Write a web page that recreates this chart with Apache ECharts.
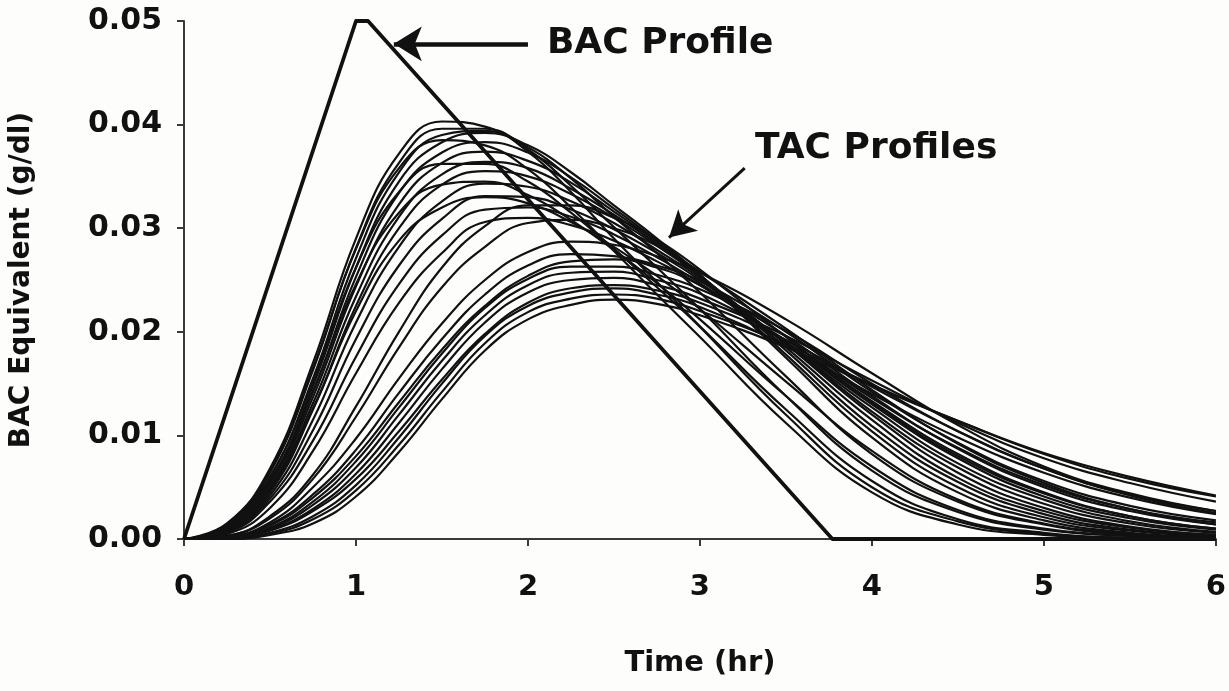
<!DOCTYPE html>
<html>
<head>
<meta charset="utf-8">
<title>BAC and TAC profiles</title>
<script src="https://cdn.jsdelivr.net/npm/echarts@6/dist/echarts.min.js"></script>
<style>
    html, body { margin: 0; padding: 0; background: #fdfdfc; }
    #chart { width: 1229px; height: 691px; }
</style>
</head>
<body>
<div id="chart"></div>
<script>
// sample times (hr) shared by every TAC curve
var times = [0, 0.25, 0.5, 0.75, 1, 1.25, 1.5, 1.75, 2, 2.25, 2.5, 2.75, 3, 3.5, 4, 4.5, 5, 5.5, 6];

// BAC profile (g/dl)
var bacTimes  = [0, 1, 1.07, 3.77, 6];
var bacValues = [0, 0.05, 0.05, 0, 0];

// TAC profiles, fast group (early, high peaks)
var tac1  = [0, .0015, .0068, .0170, .0290, .0372, .0403, .0398, .0374, .0335, .0290, .0248, .0205, .0120, .0050, .0017, .0005, .0001, 0];
var tac2  = [0, .0013, .0064, .0163, .0281, .0363, .0396, .0396, .0376, .0341, .0301, .0262, .0222, .0138, .0066, .0026, .0009, .0003, .0001];
var tac3  = [0, .0012, .0059, .0155, .0271, .0354, .0390, .0394, .0378, .0348, .0311, .0276, .0238, .0157, .0082, .0036, .0014, .0004, .0001];
var tac4  = [0, .0010, .0055, .0148, .0262, .0345, .0383, .0392, .0380, .0354, .0322, .0290, .0255, .0175, .0098, .0045, .0018, .0006, .0002];
var tac5  = [0, .0010, .0053, .0142, .0253, .0334, .0373, .0383, .0373, .0349, .0319, .0288, .0255, .0178, .0104, .0050, .0021, .0008, .0003];
var tac6  = [0, .0009, .0050, .0137, .0244, .0323, .0363, .0374, .0365, .0344, .0316, .0287, .0255, .0182, .0109, .0055, .0024, .0009, .0003];
var tac7  = [0, .0009, .0048, .0131, .0234, .0311, .0352, .0364, .0358, .0338, .0313, .0285, .0254, .0185, .0115, .0059, .0027, .0011, .0004];
var tac8  = [0, .0008, .0045, .0125, .0225, .0300, .0342, .0355, .0350, .0333, .0310, .0283, .0254, .0188, .0120, .0064, .0030, .0012, .0004];
var tac9  = [0, .0007, .0042, .0115, .0209, .0282, .0326, .0343, .0340, .0326, .0305, .0279, .0252, .0189, .0123, .0069, .0034, .0015, .0006];
var tac10 = [0, .0007, .0039, .0105, .0193, .0264, .0309, .0331, .0330, .0318, .0299, .0276, .0250, .0189, .0127, .0073, .0038, .0017, .0007];
var tac11 = [0, .0006, .0036, .0095, .0176, .0246, .0293, .0318, .0320, .0311, .0294, .0272, .0247, .0190, .0130, .0078, .0041, .0020, .0009];
var tac12 = [0, .0005, .0030, .0085, .0160, .0228, .0276, .0306, .0310, .0303, .0288, .0268, .0245, .0190, .0133, .0082, .0045, .0022, .0010];
var tac13 = [0, .0014, .0066, .0165, .0280, .0358, .0385, .0380, .0357, .0320, .0278, .0236, .0195, .0112, .0045, .0014, .0004, .0001, 0];
var tac14 = [0, .0012, .0060, .0152, .0262, .0335, .0362, .0362, .0345, .0315, .0280, .0243, .0205, .0125, .0056, .0019, .0006, .0001, 0];
var tac15 = [0, .0011, .0056, .0143, .0246, .0315, .0342, .0345, .0332, .0308, .0279, .0247, .0212, .0138, .0070, .0028, .0010, .0003, .0001];
var tac16 = [0, .0009, .0048, .0126, .0220, .0288, .0320, .0330, .0324, .0306, .0282, .0254, .0222, .0152, .0085, .0038, .0015, .0005, .0001];
var tac17 = [0, .0003, .0022, .0062, .0128, .0200, .0262, .0302, .0322, .0322, .0310, .0289, .0260, .0195, .0132, .0080, .0044, .0022, .0010];
var tac18 = [0, .0003, .0020, .0058, .0118, .0185, .0243, .0282, .0305, .0308, .0300, .0283, .0258, .0203, .0144, .0092, .0054, .0029, .0014];

// TAC profiles, slow group (late, low peaks, long tails)
var tac19 = [0, .0002, .0016, .0050, .0097, .0155, .0208, .0250, .0277, .0287, .0284, .0273, .0257, .0212, .0160, .0110, .0070, .0044, .0027];
var tac20 = [0, .0002, .0014, .0043, .0086, .0141, .0193, .0236, .0264, .0275, .0273, .0264, .0249, .0200, .0142, .0093, .0056, .0032, .0018];
var tac21 = [0, .0001, .0011, .0036, .0075, .0127, .0179, .0223, .0251, .0263, .0263, .0255, .0241, .0201, .0150, .0104, .0068, .0043, .0027];
var tac22 = [0, .0001, .0010, .0033, .0069, .0120, .0172, .0216, .0245, .0257, .0258, .0250, .0237, .0192, .0136, .0088, .0052, .0029, .0016];
var tac23 = [0, .0001, .0009, .0029, .0063, .0112, .0164, .0209, .0238, .0250, .0252, .0245, .0232, .0196, .0153, .0112, .0078, .0054, .0036];
var tac24 = [0, 0, .0006, .0022, .0052, .0098, .0150, .0196, .0225, .0238, .0242, .0236, .0224, .0186, .0140, .0098, .0064, .0040, .0024];
var tac25 = [0, 0, .0005, .0019, .0047, .0091, .0142, .0189, .0219, .0232, .0236, .0232, .0220, .0188, .0149, .0114, .0082, .0058, .0041];
var tac26 = [0, 0, .0004, .0015, .0041, .0084, .0135, .0182, .0212, .0226, .0231, .0227, .0216, .0185, .0148, .0114, .0083, .0060, .0042];
var tac27 = [0, .0002, .0013, .0040, .0080, .0132, .0183, .0225, .0254, .0268, .0270, .0262, .0245, .0196, .0138, .0087, .0050, .0027, .0014];
var tac28 = [0, .0001, .0008, .0027, .0058, .0104, .0154, .0198, .0228, .0242, .0245, .0240, .0228, .0192, .0147, .0104, .0068, .0042, .0025];

var tacProfiles = [tac1, tac2, tac3, tac4, tac5, tac6, tac7, tac8, tac9, tac10,
                   tac11, tac12, tac13, tac14, tac15, tac16, tac17, tac18, tac19, tac20,
                   tac21, tac22, tac23, tac24, tac25, tac26, tac27, tac28];

// annotation anchors, in data units
var bacArrow = [[2.0, 0.0478], [1.22, 0.0478]];
var tacArrow = [[3.26, 0.0358], [2.82, 0.0291]];
var bacLabel = [2.11, 0.0478];
var tacLabel = [3.32, 0.0377];

var FONT = 'DejaVu Sans';
var INK = '#111111';

var chart = echarts.init(document.getElementById('chart'));

function pairs(xs, ys) {
    var out = [];
    for (var i = 0; i < xs.length; i++) out.push([xs[i], ys[i]]);
    return out;
}

var series = [];
tacProfiles.forEach(function (p, i) {
    series.push({
        name: 'TAC ' + (i + 1),
        type: 'line',
        data: pairs(times, p),
        smooth: 0.45,
        symbol: 'none',
        silent: true,
        lineStyle: { color: INK, width: 2.2 },
        z: 2
    });
});

series.push({
    name: 'BAC',
    type: 'line',
    data: pairs(bacTimes, bacValues),
    symbol: 'none',
    silent: true,
    lineStyle: { color: INK, width: 3.8, join: 'round' },
    z: 3,
    markLine: {
        silent: true,
        animation: false,
        label: { show: false },
        emphasis: { disabled: true },
        data: [
            [{ coord: bacArrow[0], symbol: 'none', lineStyle: { width: 4.5, color: INK } },
             { coord: bacArrow[1], symbol: 'arrow', symbolSize: [26, 28] }],
            [{ coord: tacArrow[0], symbol: 'none', lineStyle: { width: 3, color: INK } },
             { coord: tacArrow[1], symbol: 'arrow', symbolSize: [22, 26] }]
        ],
        lineStyle: { type: 'solid', color: INK }
    }
});

chart.setOption({
    animation: false,
    backgroundColor: '#fdfdfc',
    grid: { left: 178, right: 9, top: 21, bottom: 152 },
    xAxis: {
        type: 'value',
        min: 0,
        max: 6,
        interval: 1,
        name: 'Time (hr)',
        nameLocation: 'middle',
        nameGap: 110,
        nameTextStyle: { fontFamily: FONT, fontWeight: 'bold', fontSize: 29, color: INK },
        axisLine: { show: true, lineStyle: { color: '#3a3a3a', width: 2 } },
        axisTick: { show: true, length: 7, lineStyle: { color: '#3a3a3a', width: 2 } },
        axisLabel: { margin: 34, fontFamily: FONT, fontWeight: 'bold', fontSize: 29, color: INK },
        splitLine: { show: false }
    },
    yAxis: {
        type: 'value',
        min: 0,
        max: 0.05,
        interval: 0.01,
        name: 'BAC Equivalent (g/dl)',
        nameLocation: 'middle',
        nameGap: 148,
        nameRotate: 90,
        nameTextStyle: { fontFamily: FONT, fontWeight: 'bold', fontSize: 28, color: INK },
        axisLine: { show: true, lineStyle: { color: '#3a3a3a', width: 2 } },
        axisTick: { show: true, length: 7, lineStyle: { color: '#3a3a3a', width: 2 } },
        axisLabel: {
            margin: 22,
            fontFamily: FONT, fontWeight: 'bold', fontSize: 30, color: INK,
            formatter: function (v) { return v.toFixed(2); }
        },
        splitLine: { show: false }
    },
    series: series
});

var pb = chart.convertToPixel({ gridIndex: 0 }, bacLabel);
var pt = chart.convertToPixel({ gridIndex: 0 }, tacLabel);
chart.setOption({
    graphic: [
        {
            type: 'text', x: pb[0], y: pb[1], silent: true,
            style: { text: 'BAC Profile', font: 'bold 36px "DejaVu Sans"', fill: INK, verticalAlign: 'middle' }
        },
        {
            type: 'text', x: pt[0], y: pt[1], silent: true,
            style: { text: 'TAC Profiles', font: 'bold 36px "DejaVu Sans"', fill: INK, verticalAlign: 'middle' }
        }
    ]
});
</script>
</body>
</html>
